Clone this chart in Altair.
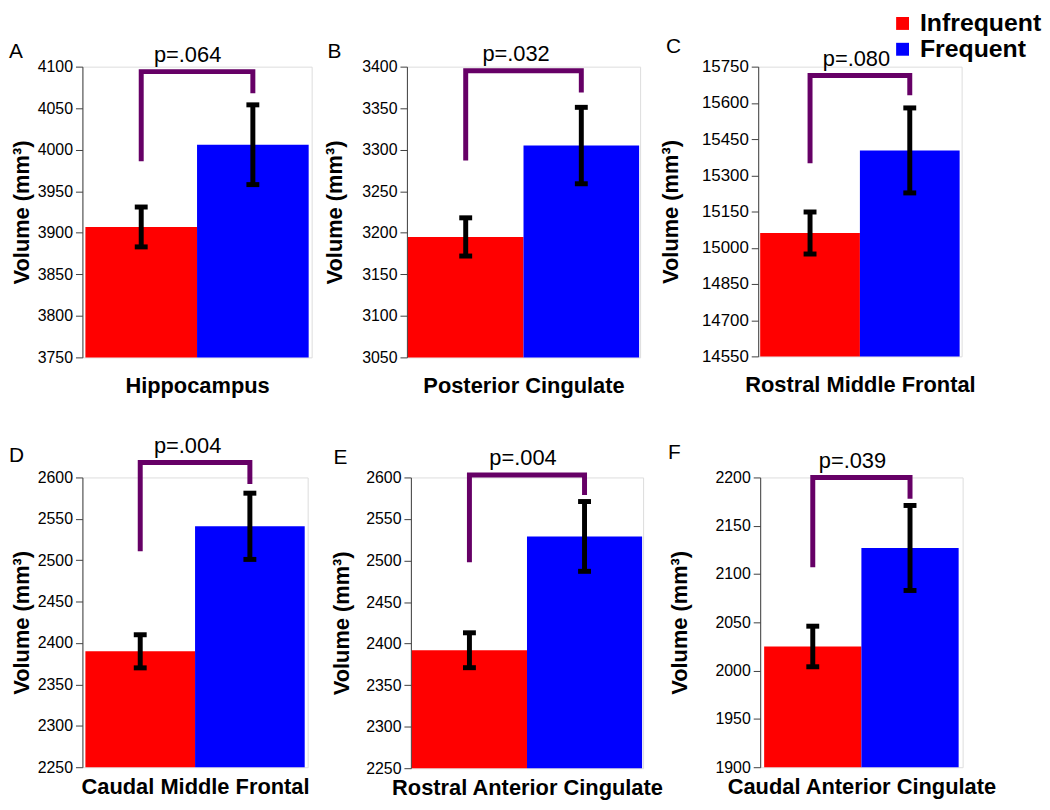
import altair as alt
import pandas as pd

# ---------------- data ----------------
groups = ["Infrequent", "Frequent"]
group_colors = ["#FF0000", "#0000FF"]
letters = ["A", "B", "C", "D", "E", "F"]
regions = ["Hippocampus", "Posterior Cingulate", "Rostral Middle Frontal",
           "Caudal Middle Frontal", "Rostral Anterior Cingulate", "Caudal Anterior Cingulate"]
p_labels = ["p=.064", "p=.032", "p=.080", "p=.004", "p=.004", "p=.039"]
infrequent_mean = [3907, 3195, 15061, 2390, 2392, 2025]
infrequent_sem = [24, 23, 87, 20, 21, 21]
frequent_mean = [4006, 3305, 15403, 2541, 2529, 2127]
frequent_sem = [48, 46, 176, 40, 42, 44]
axis_min = [3750, 3050, 14550, 2250, 2250, 1900]
axis_max = [4100, 3400, 15750, 2600, 2600, 2200]
axis_step = [50, 50, 150, 50, 50, 50]
bracket_top = [4094, 3395, 15713, 2618, 2603, 2200]
bracket_left_end = [3986, 3287, 15350, 2511, 2498, 2107]
bracket_right_end = [4068, 3369, 15631, 2592, 2579, 2178]

# ---------------- layout / style ----------------
plot_w = [231, 235, 205, 227, 234, 204]
plot_h = [293, 293, 292, 292, 293, 292]
bar_gap = [3, 1, 2, 3, 1, 4]
pad_left = [74, 94, 117, 74, 101, 94]
pad_right = [0, 0, 0, 0, 22, 0]
pad_top = [32, 32, 34, 49, 48, 48]
pad_bottom = [43, 43, 42, 34, 34, 35]
ytitle_x = [-49, -61, -76, -49, -58, -69]
letter_x = [-74, -80, -93, -74, -78, -93]
letter_y = [-15, -15, -20, -22, -20, -25]
p_x = [106, 110, 99, 106, 113, 93]
label_size = [16, 16, 17, 16, 16, 16]
xtitle_pad = [18, 18, 18, 9, 9, 9]
PURPLE = "#660066"
FONT = "Liberation Sans"

legend = alt.Legend(orient="none", legendX=814, legendY=-56, title=None,
                    symbolType="square", symbolSize=169, symbolStrokeWidth=0,
                    labelFontSize=25, labelFontWeight="bold", labelColor="black",
                    labelFont=FONT, labelOffset=5, rowPadding=0, padding=0)
color = alt.Color("group:N", scale=alt.Scale(domain=groups, range=group_colors), legend=legend)


def panel(i):
    W, H = plot_w[i], plot_h[i]
    g = bar_gap[i]
    po = 2 * g / (W - 2 * g)
    xs = alt.Scale(domain=groups, paddingInner=0, paddingOuter=po)
    ys = alt.Scale(domain=[axis_min[i], axis_max[i]], zero=False, nice=False)
    x_axis = alt.Axis(title=regions[i], labels=False, ticks=False, domain=False,
                      titleFontSize=22, titleFontWeight="bold", titleColor="black",
                      titlePadding=xtitle_pad[i], titleFont=FONT)
    y_axis = alt.Axis(title="Volume (mm³)",
                      values=list(range(axis_min[i], axis_max[i] + 1, axis_step[i])),
                      format="d", grid=False, domainColor="#404040", tickColor="#404040",
                      tickSize=7, labelPadding=3, labelFontSize=label_size[i],
                      labelColor="black", labelFont=FONT, titleFontSize=22,
                      titleFontWeight="bold", titleColor="black", titleFont=FONT,
                      titleX=ytitle_x[i])

    def X(field):
        return alt.X(field, type="nominal", scale=xs, sort=groups, axis=x_axis)

    def Y(field):
        return alt.Y(field, type="quantitative", scale=ys, axis=y_axis)

    means = [infrequent_mean[i], frequent_mean[i]]
    sems = [infrequent_sem[i], frequent_sem[i]]
    df = pd.DataFrame({
        "group": groups,
        "volume": means,
        "base": [axis_min[i]] * 2,
        "lo": [m - s for m, s in zip(means, sems)],
        "hi": [m + s for m, s in zip(means, sems)],
    })
    bracket_df = pd.DataFrame({
        "group": [groups[0], groups[0], groups[1], groups[1]],
        "val": [bracket_left_end[i], bracket_top[i], bracket_top[i], bracket_right_end[i]],
        "ord": [0, 1, 2, 3],
    })
    ptext_df = pd.DataFrame({"top": [bracket_top[i]], "label": [p_labels[i]]})
    one = pd.DataFrame({"letter": [letters[i]]})

    anchor = alt.Chart(one).mark_rect(opacity=0).encode(
        x=alt.value(-pad_left[i]), x2=alt.value(W + pad_right[i]),
        y=alt.value(-pad_top[i]), y2=alt.value(H + pad_bottom[i]))
    bars = alt.Chart(df).mark_bar().encode(x=X("group"), y=Y("volume"), y2="base:Q", color=color)
    err = alt.Chart(df).mark_rule(color="black", strokeWidth=5).encode(
        x=X("group"), y=Y("lo"), y2="hi:Q")
    cap_lo = alt.Chart(df).mark_tick(color="black", thickness=5, size=13, opacity=1).encode(
        x=X("group"), y=Y("lo"))
    cap_hi = alt.Chart(df).mark_tick(color="black", thickness=5, size=13, opacity=1).encode(
        x=X("group"), y=Y("hi"))
    bracket = alt.Chart(bracket_df).mark_line(color=PURPLE, strokeWidth=5,
                                               strokeJoin="miter", strokeCap="butt").encode(
        x=X("group"), y=Y("val"), order="ord:Q")
    ptext = alt.Chart(ptext_df).mark_text(fontSize=22, font=FONT, color="black",
                                          align="center", baseline="alphabetic", dy=-10).encode(
        x=alt.value(p_x[i]), y=Y("top"), text="label:N")
    letter = alt.Chart(one).mark_text(fontSize=21, font=FONT, color="black",
                                      align="left", baseline="middle").encode(
        x=alt.value(letter_x[i]), y=alt.value(letter_y[i]), text="letter:N")

    return alt.layer(anchor, bars, err, cap_lo, cap_hi, bracket, ptext, letter).properties(
        width=W, height=H)


row1 = alt.hconcat(*[panel(i) for i in range(3)], spacing=0)
row2 = alt.hconcat(*[panel(i) for i in range(3, 6)], spacing=0)

chart = (
    alt.vconcat(row1, row2, spacing=27)
    .resolve_scale(color="shared")
    .properties(padding=0)
    .configure_view(stroke=None)
    .configure(font=FONT)
)

chart.save("out.html", embed_options={"renderer": "svg", "actions": False})
